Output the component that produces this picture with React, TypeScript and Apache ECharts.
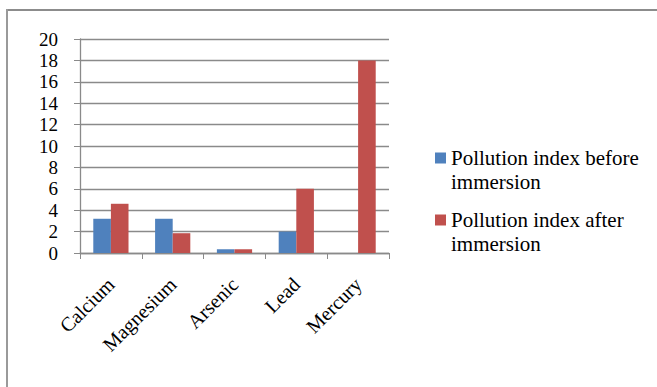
import React, { useEffect, useRef } from "react";
import * as echarts from "echarts";

const categories = ["Calcium", "Magnesium", "Arsenic", "Lead", "Mercury"];
const seriesNames = ["Pollution index before immersion", "Pollution index after immersion"];
const beforeValues = [3.2, 3.2, 0.35, 2.0, 0];
const afterValues = [4.6, 1.85, 0.35, 6.0, 18.0];
const yTicks = { min: 0, max: 20, interval: 2 };

const SERIF = "Liberation Serif";
const GRID_COLOR = "#8a8a8a";

export default function App() {
  const ref = useRef<HTMLDivElement>(null);

  useEffect(() => {
    if (!ref.current) return;
    const chart = echarts.init(ref.current, undefined, { renderer: "svg" });
    chart.setOption({
      animation: false,
      backgroundColor: "#ffffff",
      textStyle: { fontFamily: SERIF },
      graphic: [
        // frame of the chart area (top and left edges)
        { type: "line", shape: { x1: 7, y1: 10, x2: 657, y2: 10 }, style: { stroke: "#8c8c8c", lineWidth: 2 } },
        { type: "line", shape: { x1: 7, y1: 9, x2: 7, y2: 387 }, style: { stroke: "#9a9a9a", lineWidth: 2 } },
      ],
      grid: { left: 80, right: 268, top: 39, bottom: 134, containLabel: false },
      legend: {
        orient: "vertical",
        left: 430,
        top: 117,
        itemWidth: 11,
        itemHeight: 11,
        itemGap: -10,
        icon: "rect",
        data: seriesNames,
        // leading blank line keeps the first text line level with the swatch
        formatter: (name: string) => "\n" + name.replace(/ immersion$/, "\nimmersion"),
        textStyle: {
          fontFamily: SERIF,
          fontSize: 21,
          color: "#000",
          lineHeight: 24,
        },
      },
      xAxis: {
        type: "category",
        data: categories,
        axisLine: { lineStyle: { color: GRID_COLOR, width: 1.3 } },
        axisTick: { show: true, length: 6, lineStyle: { color: GRID_COLOR } },
        axisLabel: {
          rotate: 45,
          margin: 28,
          fontFamily: SERIF,
          fontSize: 20,
          lineHeight: 18,
          color: "#000",
          interval: 0,
        },
      },
      yAxis: {
        type: "value",
        min: yTicks.min,
        max: yTicks.max,
        interval: yTicks.interval,
        axisLine: { show: true, lineStyle: { color: GRID_COLOR, width: 1.3 } },
        axisTick: { show: true, length: 6, lineStyle: { color: GRID_COLOR } },
        splitLine: { show: true, lineStyle: { color: GRID_COLOR, width: 1.3 } },
        axisLabel: { margin: 22, fontFamily: SERIF, fontSize: 19, lineHeight: 17, color: "#000" },
      },
      series: [
        {
          name: seriesNames[0],
          type: "bar",
          data: beforeValues,
          itemStyle: { color: "#4F81BD" },
          barGap: "0%",
          barCategoryGap: "43%",
        },
        {
          name: seriesNames[1],
          type: "bar",
          data: afterValues,
          itemStyle: { color: "#C0504D" },
          barGap: "0%",
          barCategoryGap: "43%",
        },
      ],
    });
    return () => chart.dispose();
  }, []);

  return (
    <div
      ref={ref}
      style={{ position: "fixed", left: 0, top: 0, width: 657, height: 387 }}
    />
  );
}
